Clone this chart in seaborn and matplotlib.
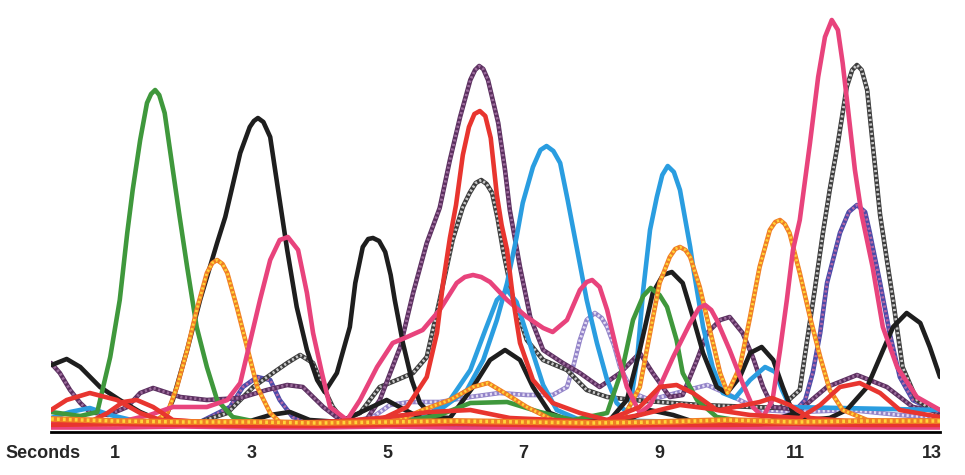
import pandas as pd
import seaborn as sns
import matplotlib
matplotlib.use("Agg")
from matplotlib import pyplot as plt

# traces: time in seconds, height in arbitrary units (0 = baseline)
t_green = [0.06, 0.49, 0.74, 0.93, 1.07, 1.18, 1.26, 1.37, 1.47, 1.53, 1.59, 1.65, 1.73, 1.85, 1.95,
           2.06, 2.20, 2.35, 2.50, 2.73, 3.09, 3.72, 5.19, 5.77, 6.22, 6.76, 7.24, 7.73, 8.23, 8.46,
           8.61, 8.76, 8.87, 9.00, 9.11, 9.25, 9.34, 9.55, 9.84, 10.47, 13.12]
h_green = [18, 14, 18, 73, 130, 197, 240, 290, 327, 336, 340, 335, 317, 260, 213,
           163, 103, 63, 30, 13, 8, 6, 8, 15, 27, 28, 18, 10, 17, 63,
           110, 134, 142, 135, 123, 90, 57, 30, 13, 6, 4]

t_black = [0.07, 0.29, 0.49, 0.78, 1.07, 1.37, 1.71, 1.85, 2.06, 2.25, 2.50, 2.62, 2.84, 2.98, 3.04,
           3.10, 3.18, 3.28, 3.39, 3.53, 3.67, 3.82, 3.97, 4.08, 4.26, 4.45, 4.53, 4.64, 4.72, 4.79,
           4.88, 4.97, 5.05, 5.11, 5.23, 5.36, 5.48, 5.67, 5.92, 6.26, 6.51, 6.73, 6.95, 7.14, 7.39,
           7.73, 8.27, 8.52, 8.71, 8.90, 9.05, 9.18, 9.34, 9.49, 9.64, 9.84, 9.99, 10.18, 10.33, 10.50,
           10.67, 10.81, 10.96, 11.17, 11.50, 11.75, 12.05, 12.24, 12.43, 12.63, 12.83, 12.97, 13.12]
h_black = [65, 71, 63, 43, 30, 18, 8, 30, 80, 130, 187, 213, 277, 303, 309,
           312, 308, 293, 243, 180, 123, 80, 50, 38, 57, 103, 147, 183, 191, 192,
           189, 178, 155, 130, 87, 50, 27, 13, 12, 43, 70, 80, 70, 43, 17,
           8, 10, 30, 80, 137, 155, 158, 147, 113, 77, 43, 37, 53, 77, 83,
           70, 43, 17, 10, 12, 20, 43, 73, 103, 117, 107, 83, 53]

t_black_low = [0.06, 2.84, 3.28, 3.57, 3.86, 4.31, 4.74, 4.99, 5.26, 5.62, 8.40, 8.85, 9.20, 9.60,
               10.60, 10.95, 11.30, 13.12]
h_black_low = [5, 6, 15, 18, 10, 8, 22, 30, 20, 8, 6, 20, 15, 6, 8, 16, 6, 6]

t_pink = [0.06, 1.07, 1.51, 1.85, 2.35, 2.65, 2.84, 2.98, 3.13, 3.28, 3.42, 3.54, 3.69, 3.82, 3.91,
          4.04, 4.16, 4.41, 4.60, 4.85, 5.08, 5.29, 5.52, 5.77, 6.02, 6.14, 6.26, 6.38, 6.51, 6.76,
          7.05, 7.29, 7.43, 7.64, 7.83, 7.93, 8.01, 8.12, 8.23, 8.37, 8.52, 8.71, 8.86, 9.00, 9.20,
          9.45, 9.58, 9.67, 9.76, 9.84, 10.03, 10.22, 10.37, 10.52, 10.66, 10.77, 10.87, 10.96, 11.06, 11.21,
          11.33, 11.43, 11.53, 11.62, 11.69, 11.77, 11.87, 11.97, 12.13, 12.28, 12.49, 12.78, 13.12]
h_pink = [8, 8, 15, 23, 23, 30, 47, 87, 130, 170, 190, 193, 180, 137, 97,
          57, 23, 10, 30, 63, 87, 93, 100, 120, 147, 153, 155, 153, 148, 130,
          113, 102, 98, 110, 140, 148, 150, 143, 120, 80, 43, 17, 25, 43, 73,
          107, 122, 125, 120, 110, 80, 47, 23, 13, 30, 80, 130, 180, 210, 287,
          353, 393, 410, 400, 367, 320, 260, 215, 163, 103, 63, 33, 20]

t_orange = [0.06, 1.37, 1.56, 1.77, 1.91, 2.06, 2.20, 2.35, 2.43, 2.50, 2.58, 2.65, 2.79, 2.94, 3.09,
            3.28, 3.42, 4.16, 5.19, 5.52, 5.92, 6.26, 6.48, 6.70, 7.05, 7.43, 8.23, 8.49, 8.71, 8.86,
            9.00, 9.15, 9.23, 9.30, 9.38, 9.45, 9.59, 9.74, 9.89, 10.00, 10.18, 10.33, 10.47, 10.62, 10.70,
            10.77, 10.84, 10.91, 11.06, 11.21, 11.36, 11.50, 11.69, 12.05, 13.12]
h_orange = [5, 5, 8, 17, 43, 80, 120, 157, 167, 170, 166, 157, 123, 83, 43,
            17, 8, 5, 10, 20, 30, 43, 47, 38, 23, 10, 5, 15, 43, 97,
            147, 173, 181, 183, 180, 173, 143, 100, 57, 37, 63, 113, 163, 200, 208,
            210, 206, 197, 157, 113, 73, 40, 20, 10, 5]

t_purple = [0.06, 0.19, 0.34, 0.49, 0.63, 0.90, 1.18, 1.37, 1.56, 1.96, 2.35, 2.84, 3.23, 3.53, 3.76,
            4.06, 4.31, 4.67, 4.89, 5.19, 5.38, 5.58, 5.77, 5.92, 6.07, 6.22, 6.29, 6.35, 6.41, 6.48,
            6.63, 6.73, 6.80, 6.95, 7.10, 7.29, 7.58, 7.83, 8.12, 8.42, 8.71, 8.90, 9.15, 9.34, 9.55,
            9.70, 9.89, 10.03, 10.22, 10.37, 10.52, 10.66, 11.06, 11.46, 11.90, 12.34, 12.72, 13.12]
h_purple = [67, 57, 40, 27, 18, 15, 23, 37, 42, 33, 30, 32, 40, 45, 43,
            23, 10, 8, 30, 83, 137, 187, 222, 270, 313, 350, 360, 364, 361, 350,
            307, 260, 220, 163, 113, 80, 67, 57, 43, 57, 77, 57, 33, 35, 70,
            97, 110, 113, 97, 73, 43, 23, 20, 43, 55, 43, 23, 18]

t_violet = [0.06, 2.25, 2.69, 2.88, 3.09, 3.28, 3.42, 3.61, 4.01, 10.47, 10.96, 11.14, 11.25, 11.36, 11.46,
            11.65, 11.78, 11.90, 12.02, 12.09, 12.24, 12.38, 12.53, 12.72, 13.02, 13.12]
h_violet = [5, 8, 23, 43, 53, 50, 30, 13, 5, 5, 17, 30, 57, 97, 147,
            197, 218, 225, 218, 197, 147, 97, 53, 30, 20, 18]

t_gray = [0.06, 2.25, 2.65, 3.03, 3.32, 3.53, 3.72, 3.91, 4.06, 4.20, 4.35, 4.60, 4.89, 5.14, 5.38,
          5.58, 5.77, 5.96, 6.11, 6.21, 6.30, 6.38, 6.46, 6.54, 6.62, 6.70, 6.85, 7.05, 7.29, 7.64,
          7.93, 8.23, 8.61, 9.59, 10.77, 11.06, 11.18, 11.28, 11.40, 11.50, 11.62, 11.75, 11.83, 11.90, 11.97,
          12.05, 12.13, 12.24, 12.34, 12.43, 12.57, 12.78, 13.12]
h_gray = [8, 8, 17, 43, 57, 67, 75, 67, 43, 23, 10, 17, 43, 50, 57,
          73, 130, 190, 223, 237, 247, 250, 246, 237, 212, 180, 130, 90, 70, 60,
          40, 33, 30, 25, 22, 40, 95, 140, 197, 240, 287, 343, 360, 365, 360,
          340, 287, 215, 170, 130, 63, 30, 15]

t_red = [0.06, 0.29, 0.63, 1.03, 1.37, 1.66, 2.98, 4.89, 5.29, 5.58, 5.73, 5.82, 5.92, 6.01, 6.11,
         6.20, 6.28, 6.36, 6.44, 6.52, 6.61, 6.68, 6.76, 6.85, 6.95, 7.14, 7.43, 7.83, 8.23, 8.71,
         9.00, 9.25, 9.49, 9.84, 10.33, 11.06, 11.36, 11.65, 11.94, 12.24, 12.53, 13.12]
h_red = [20, 30, 37, 30, 17, 10, 6, 10, 23, 53, 97, 147, 192, 225, 275,
         303, 316, 319, 314, 292, 235, 205, 180, 130, 87, 50, 27, 17, 10, 23,
         43, 45, 37, 20, 15, 12, 25, 43, 47, 37, 20, 13]

t_red_low = [0.06, 0.63, 0.89, 1.12, 1.32, 1.56, 1.85, 2.69, 4.16, 4.89, 5.62, 6.22, 6.80, 8.12, 8.71,
             9.30, 9.89, 10.47, 10.65, 10.91, 11.21, 11.94, 13.12]
h_red_low = [5, 8, 17, 28, 30, 23, 10, 6, 8, 12, 18, 20, 12, 8, 15,
             25, 20, 28, 32, 25, 12, 8, 8]

t_blue = [0.06, 0.34, 0.63, 0.93, 1.37, 3.72, 5.19, 5.77, 6.17, 6.41, 6.61, 6.76, 6.90, 6.99, 7.14,
          7.25, 7.34, 7.44, 7.54, 7.65, 7.79, 7.93, 8.08, 8.23, 8.37, 8.52, 8.57, 8.67, 8.76, 8.86,
          8.96, 9.04, 9.12, 9.21, 9.30, 9.45, 9.50, 9.64, 9.78, 9.93, 10.11, 10.33, 10.55, 10.70, 10.80,
          10.92, 11.65, 13.12]
h_blue = [12, 18, 22, 15, 8, 5, 8, 20, 40, 70, 110, 147, 193, 227, 263,
          280, 284, 279, 267, 230, 180, 130, 87, 50, 27, 18, 25, 70, 140, 200,
          233, 255, 264, 258, 240, 183, 160, 103, 63, 37, 32, 50, 63, 58, 40,
          23, 22, 20]

t_blue_2 = [0.06, 5.19, 5.48, 5.92, 6.22, 6.44, 6.61, 6.76, 6.90, 7.10, 7.29, 7.49, 7.83, 9.59, 13.12]
h_blue_2 = [4, 5, 10, 30, 60, 100, 130, 140, 128, 85, 45, 20, 10, 8, 6]

t_lavender = [0.06, 3.72, 4.45, 4.79, 5.04, 5.33, 5.77, 6.22, 6.65, 7.05, 7.43, 7.64, 7.73, 7.83, 7.93,
              8.05, 8.15, 8.23, 8.33, 8.42, 8.61, 8.86, 9.30, 9.70, 10.03, 10.47, 11.06, 11.80, 12.53, 13.12]
h_lavender = [5, 5, 8, 13, 25, 28, 28, 33, 37, 35, 35, 43, 63, 90, 110,
              117, 112, 103, 85, 63, 37, 30, 38, 45, 35, 20, 18, 20, 15, 12]

# the crowded band along the baseline
t_base = [0.06, 1.0, 2.0, 3.0, 4.0, 5.0, 6.0, 7.0, 8.0, 9.0, 10.0, 11.0, 12.0, 13.12]
h_base_orange = [11, 9, 8, 8, 7, 8, 9, 8, 7, 8, 10, 8, 9, 9]
h_base_red = [5, 6, 5, 4, 4, 5, 6, 5, 4, 5, 5, 6, 5, 5]
h_base_pink = [2, 2, 3, 2, 2, 3, 2, 2, 2, 2, 2, 2, 2, 2]

tick_secs = [1, 3, 5, 7, 9, 11, 13]

sns.set_style('white')
plt.rcParams['font.family'] = ['Liberation Sans', 'DejaVu Sans']

fig = plt.figure(figsize=(9.65, 4.75), dpi=100)
ax = fig.add_axes([51 / 965, 43 / 475, 889 / 965, 432 / 475])


def trace(t, h, color, lw=3.3, stripe=None, z=2):
    df = pd.DataFrame({'t': t, 'h': h})
    sns.lineplot(data=df, x='t', y='h', color=color, linewidth=lw, estimator=None, sort=False,
                 ax=ax, zorder=z, solid_joinstyle='round', solid_capstyle='round')
    if stripe:
        # halftone look of the printed traces
        sns.lineplot(data=df, x='t', y='h', color=stripe, linewidth=lw * 0.6,
                     linestyle=(0, (0.8, 0.9)), estimator=None, sort=False, ax=ax,
                     zorder=z + 0.01, dash_capstyle='butt', dash_joinstyle='round')


trace(t_violet, h_violet, '#4b4aa8', stripe='#b56aa8', z=2)
trace(t_lavender, h_lavender, '#9283c8', stripe='#e4dcf4', z=2.1)
trace(t_gray, h_gray, '#3c3c3c', stripe='#c8c8c8', z=2.2)
trace(t_purple, h_purple, '#5c3060', stripe='#9c6c9c', z=2.3)
trace(t_blue_2, h_blue_2, '#2c9fe0', z=2.4)
trace(t_blue, h_blue, '#2a9de0', z=2.5)
trace(t_black_low, h_black_low, '#1e1e1e', z=2.6)
trace(t_black, h_black, '#1e1e1e', z=2.7)
trace(t_green, h_green, '#3f983c', z=2.8)
trace(t_orange, h_orange, '#f07e24', stripe='#ffd43a', z=2.9)
trace(t_pink, h_pink, '#e8437c', z=3.0)
trace(t_red, h_red, '#e8352f', z=3.1)
trace(t_red_low, h_red_low, '#e8352f', z=3.2)
trace(t_base, h_base_pink, '#e8437c', lw=2.6, z=3.3)
trace(t_base, h_base_red, '#e8352f', lw=3.2, z=3.4)
trace(t_base, h_base_orange, '#f07e24', lw=4.2, stripe='#ffd43a', z=3.5)

ax.set_xlim(0.06, 13.12)
ax.set_ylim(-2, 430)
ax.set_xlabel('')
ax.set_ylabel('')
ax.set_yticks([])
ax.set_xticks(tick_secs)
ax.set_xticklabels([str(s) for s in tick_secs], fontsize=13, fontweight='bold')
ax.tick_params(axis='x', direction='out', length=6, width=1.3, color='black', pad=3)
for side in ['top', 'left', 'right']:
    ax.spines[side].set_visible(False)
ax.spines['bottom'].set_linewidth(2)
ax.spines['bottom'].set_color('black')
ax.spines['bottom'].set_zorder(5)

fig.text(5 / 965, (475 - 453) / 475, 'Seconds', fontsize=13, fontweight='bold', va='center', ha='left')

fig.savefig('out.png', dpi=100)
